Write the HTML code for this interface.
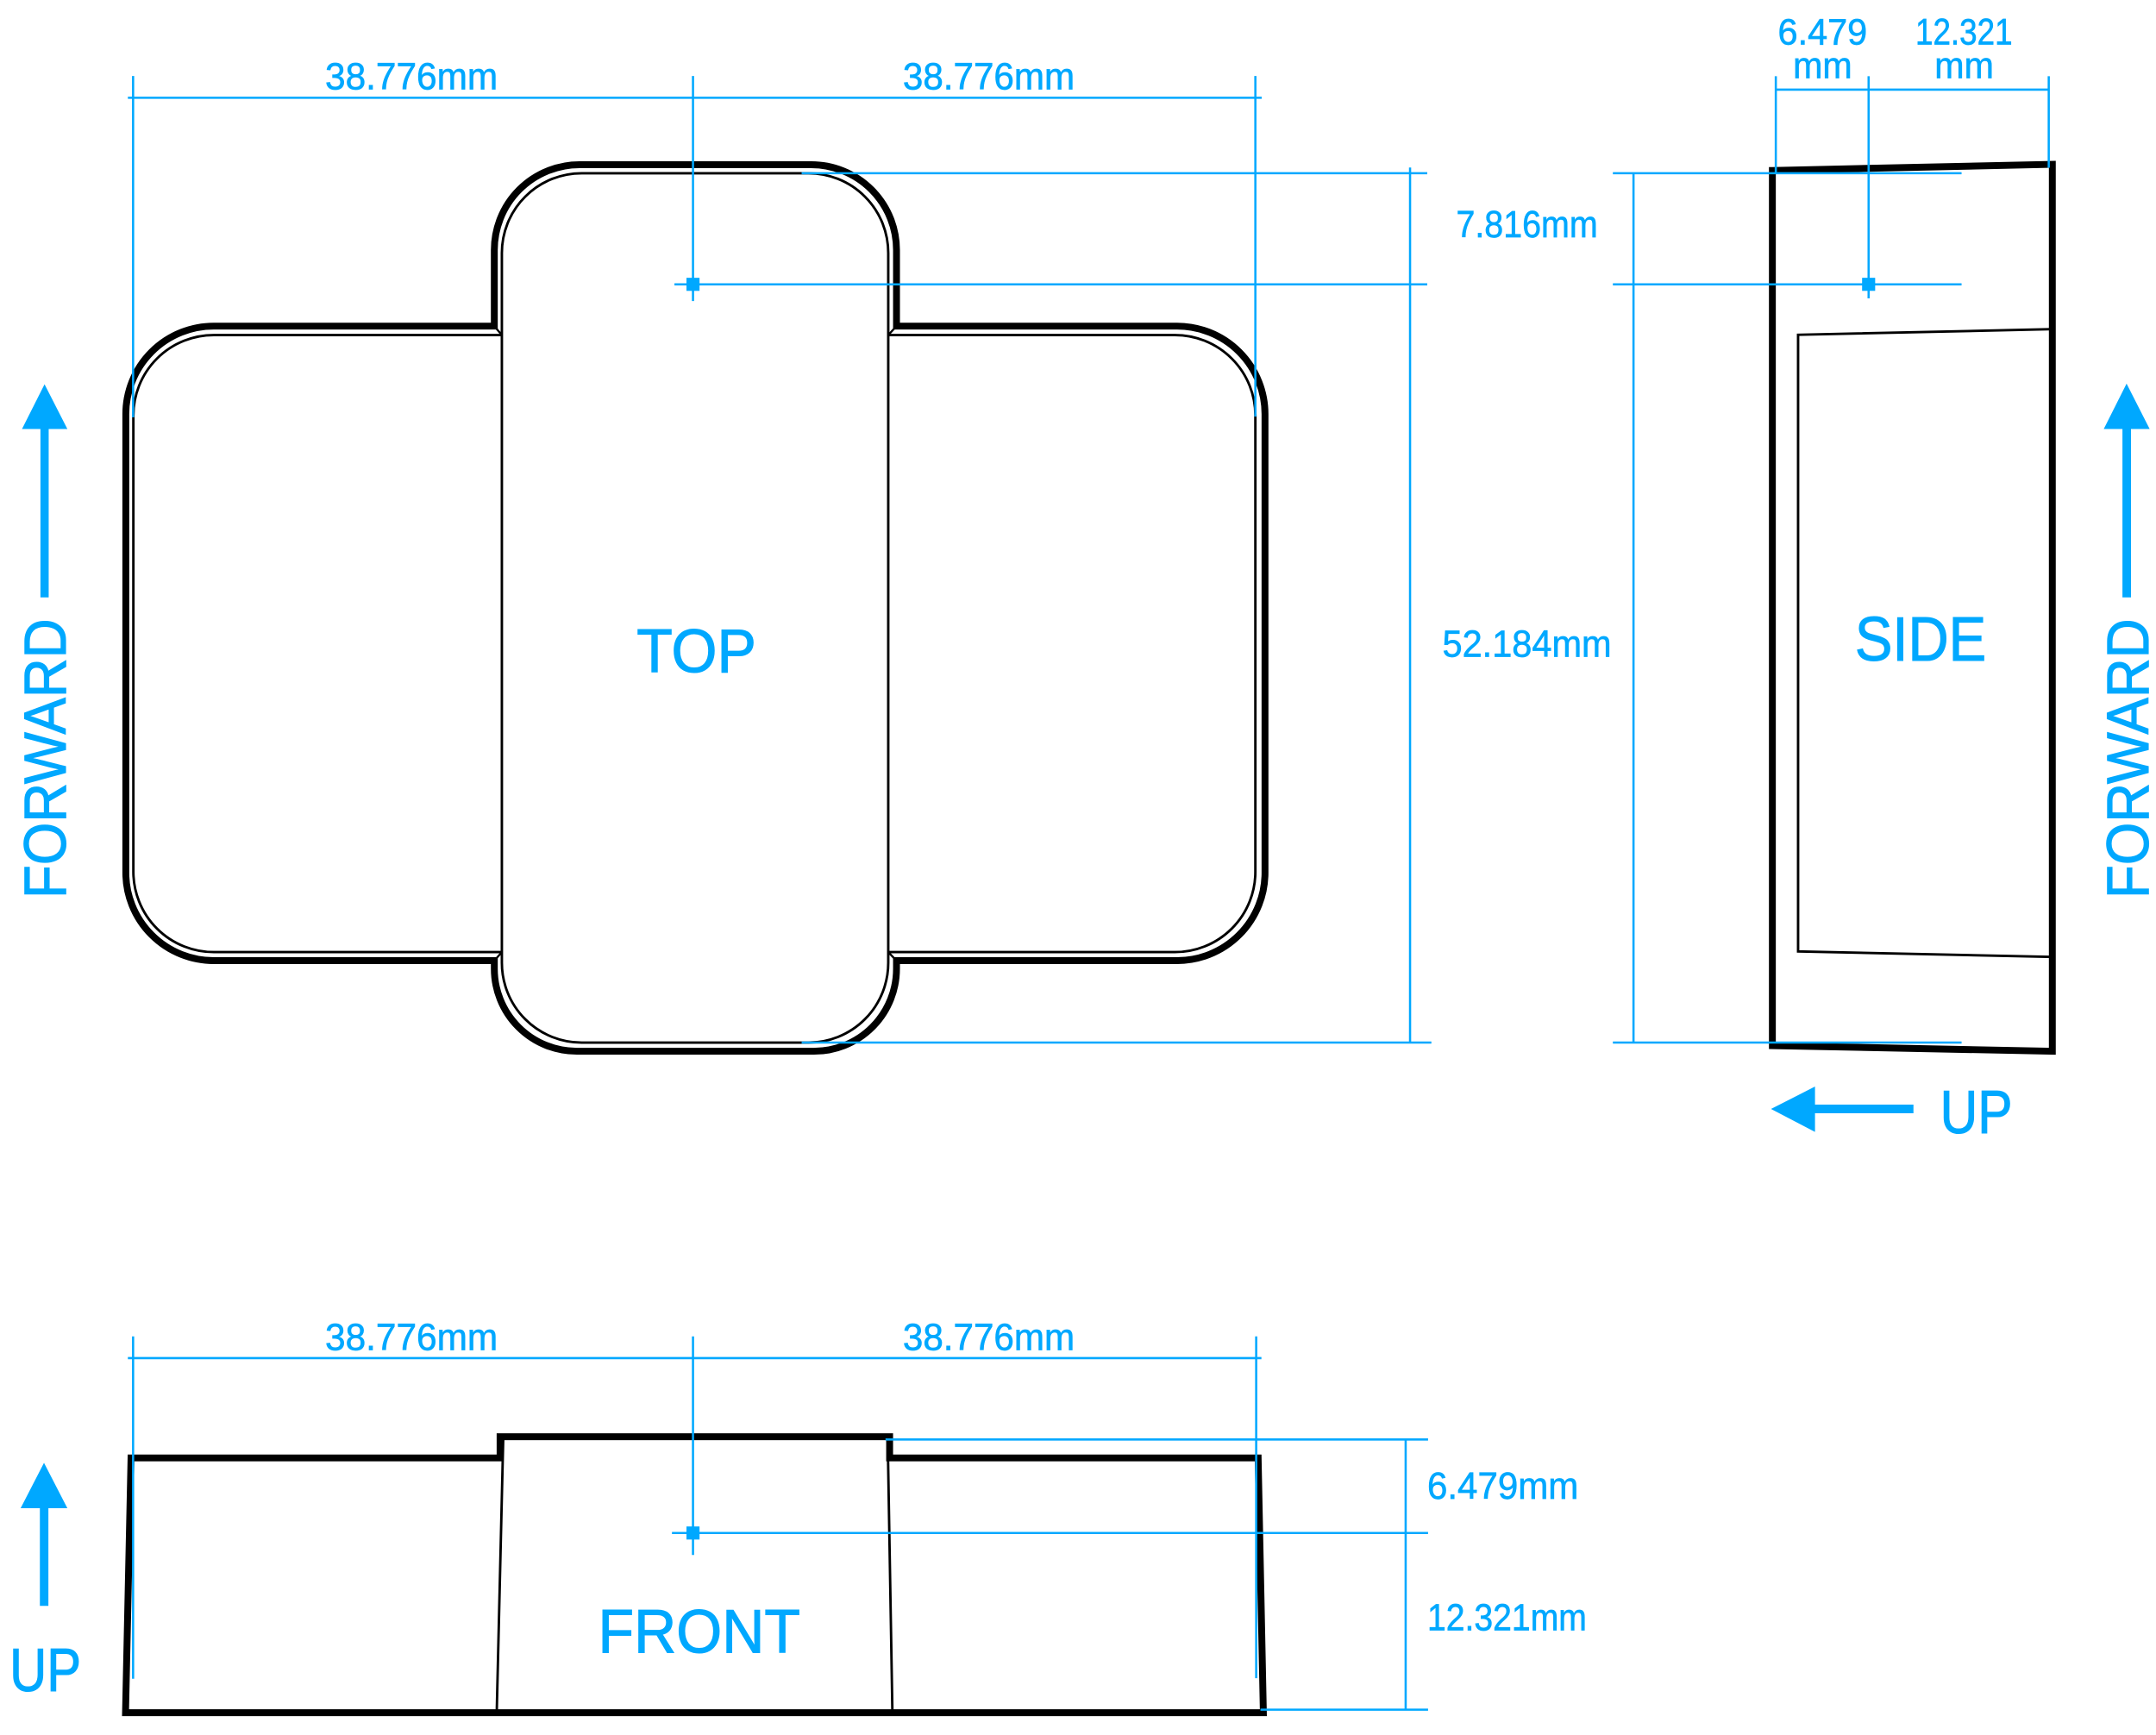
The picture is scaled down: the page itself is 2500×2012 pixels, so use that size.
<!DOCTYPE html>
<html><head><meta charset="utf-8"><title>Dimensions</title><style>
html,body{margin:0;padding:0;background:#fff;}
svg{display:block;}
text{font-family:"Liberation Sans",sans-serif;fill:#00a8ff;stroke:#00a8ff;stroke-width:0.4;}
text.big{stroke-width:0.7;}
</style></head><body>
<svg width="2500" height="2012" viewBox="0 0 1568 1261.92" preserveAspectRatio="none" xmlns="http://www.w3.org/2000/svg">
<rect x="0" y="0" width="1568" height="1261.92" fill="#fff"/>

<!-- TOP view black outlines -->
<g fill="none" stroke="#000" stroke-linejoin="miter">
  <path stroke-width="5" d="M359.5 237.2 L359.5 181.8 A62 62 0 0 1 421.5 119.8 L590 119.8 A62 62 0 0 1 652 181.8 L652 237.2 L856 237.2 A64 64 0 0 1 920 301.2 L920 634.7 A64 64 0 0 1 856 698.7 L652 698.7 L652 704.6 A60 60 0 0 1 592 764.6 L419.5 764.6 A60 60 0 0 1 359.5 704.6 L359.5 698.7 L155.5 698.7 A64 64 0 0 1 91.5 634.7 L91.5 301.2 A64 64 0 0 1 155.5 237.2 Z"/>
  <path stroke-width="1.8" d="M365 184 A58 58 0 0 1 423 126 L588 126 A58 58 0 0 1 646 184 L646 700.3 A58 58 0 0 1 588 758.3 L423 758.3 A58 58 0 0 1 365 700.3 Z"/>
  <path stroke-width="1.8" d="M365 243.7 L155.5 243.7 A58.5 58.5 0 0 0 97 302.2 L97 634 A58.5 58.5 0 0 0 155.5 692.5 L365 692.5"/>
  <path stroke-width="1.8" d="M646 243.7 L854.5 243.7 A58.5 58.5 0 0 1 913 302.2 L913 634 A58.5 58.5 0 0 1 854.5 692.5 L646 692.5"/>
  <path stroke-width="1.5" d="M359.5 237.2 L365 243.7 M652 237.2 L646 243.7 M359.5 698.7 L365 692.5 M652 698.7 L646 692.5"/>

  <!-- SIDE view -->
  <polygon stroke-width="5" points="1289,124 1492.6,119.5 1492.6,764.6 1289,760.5"/>
  <polyline stroke-width="1.8" points="1492.6,239.4 1307.7,243.5 1307.7,692 1492.6,696"/>

  <!-- FRONT view -->
  <polygon stroke-width="5" points="95.3,1060.4 363.7,1060.4 363.7,1045 647,1045 647,1060.4 915,1060.4 918.8,1245.7 91.3,1245.7"/>
  <path stroke-width="1.8" d="M366 1046 L361.3 1244 M645.6 1046 L649 1244"/>
</g>

<!-- Blue dimension lines -->
<g fill="none" stroke="#00a8ff" stroke-width="1.6">
  <path d="M93 71.1 H917.6"/>
  <path d="M96.8 55.3 V303.6"/>
  <path d="M504 55.3 V219"/>
  <path d="M913 55.3 V303"/>
  <path d="M583 126 H1038"/>
  <path d="M490.5 206.8 H1038"/>
  <path d="M583 758.3 H1041"/>
  <path d="M1025.5 121.8 V758.3"/>
  <path d="M1291.5 65.2 H1490"/>
  <path d="M1291.5 55.4 V126"/>
  <path d="M1359 55.4 V217"/>
  <path d="M1490 55.4 V122"/>
  <path d="M1173 126 H1426.6"/>
  <path d="M1173 206.8 H1426.6"/>
  <path d="M1173 758.3 H1426.6"/>
  <path d="M1188 126 V758.3"/>
  <path d="M93 987.8 H917.4"/>
  <path d="M96.8 972 V1221"/>
  <path d="M504 972 V1131"/>
  <path d="M913.6 972 V1220.6"/>
  <path d="M644 1047 H1038.6"/>
  <path d="M488.7 1115 H1038.6"/>
  <path d="M916.7 1243.5 H1038.6"/>
  <path d="M1022.3 1047 V1243.5"/>
</g>
<g fill="#00a8ff">
  <rect x="499.25" y="202.05" width="9.5" height="9.5"/>
  <rect x="1354.25" y="202.05" width="9.5" height="9.5"/>
  <rect x="499.25" y="1110.25" width="9.5" height="9.5"/>

  <polygon points="32.4,279.5 49,312 16,312"/>
  <rect x="29.4" y="311" width="6" height="123.5"/>
  <polygon points="1546.6,279 1563.4,312 1530,312"/>
  <rect x="1543.6" y="311" width="6.2" height="123.5"/>
  <polygon points="32,1064 49,1097 15,1097"/>
  <rect x="29" y="1096" width="6.2" height="72"/>
  <polygon points="1288,806.6 1320,790.3 1320,823.3"/>
  <rect x="1319" y="803.4" width="72.6" height="6.3"/>
</g>

<!-- labels -->
<text x="236.5" y="64.8" font-size="27.5" textLength="125.5" lengthAdjust="spacingAndGlyphs">38.776mm</text>
<text x="656.6" y="64.8" font-size="27.5" textLength="125" lengthAdjust="spacingAndGlyphs">38.776mm</text>
<text x="236.5" y="981.8" font-size="27.5" textLength="125.5" lengthAdjust="spacingAndGlyphs">38.776mm</text>
<text x="656.6" y="981.8" font-size="27.5" textLength="125" lengthAdjust="spacingAndGlyphs">38.776mm</text>
<text x="1059" y="172.5" font-size="27.5" textLength="103" lengthAdjust="spacingAndGlyphs">7.816mm</text>
<text x="1049" y="477.7" font-size="27.5" textLength="123" lengthAdjust="spacingAndGlyphs">52.184mm</text>
<text x="1293" y="32.4" font-size="27" textLength="65" lengthAdjust="spacingAndGlyphs">6.479</text>
<text x="1304" y="56.9" font-size="27" textLength="43" lengthAdjust="spacingAndGlyphs">mm</text>
<text x="1393" y="32.4" font-size="27" textLength="70.6" lengthAdjust="spacingAndGlyphs">12.321</text>
<text x="1407" y="56.9" font-size="27" textLength="43" lengthAdjust="spacingAndGlyphs">mm</text>
<text x="1038" y="1090" font-size="27.5" textLength="110" lengthAdjust="spacingAndGlyphs">6.479mm</text>
<text x="1038" y="1185.8" font-size="27.5" textLength="116" lengthAdjust="spacingAndGlyphs">12.321mm</text>

<text class="big" x="463" y="488.8" font-size="45" textLength="87" lengthAdjust="spacingAndGlyphs">TOP</text>
<text class="big" x="1349" y="480.4" font-size="45.5" textLength="95.5" lengthAdjust="spacingAndGlyphs">SIDE</text>
<text class="big" x="435" y="1202" font-size="45" textLength="147" lengthAdjust="spacingAndGlyphs">FRONT</text>
<text class="big" x="7" y="1230" font-size="44" textLength="52" lengthAdjust="spacingAndGlyphs">UP</text>
<text class="big" x="1411" y="824" font-size="44" textLength="52.6" lengthAdjust="spacingAndGlyphs">UP</text>
<text class="big" transform="translate(47.7,653.5) rotate(-90)" font-size="43" textLength="203.5" lengthAdjust="spacingAndGlyphs">FORWARD</text>
<text class="big" transform="translate(1562.4,653.5) rotate(-90)" font-size="43" textLength="203.5" lengthAdjust="spacingAndGlyphs">FORWARD</text>
</svg>
</body></html>
